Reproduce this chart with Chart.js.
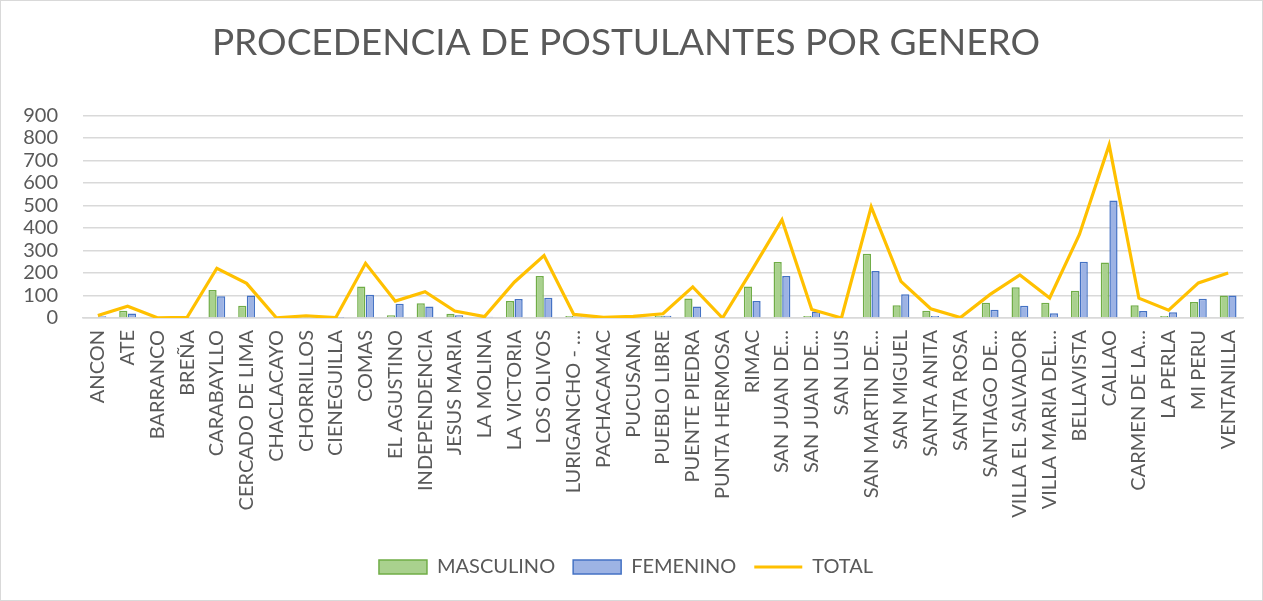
<!DOCTYPE html>
<html>
<head>
<meta charset="utf-8">
<script src="https://cdn.jsdelivr.net/npm/chart.js@4"></script>
<style>
  html, body { margin: 0; padding: 0; background: #fff; }
  #wrap { position: relative; width: 1263px; height: 601px; box-sizing: border-box; border: 1px solid #d9d9d9; }
</style>
</head>
<body>
<div id="wrap"><canvas id="c"></canvas></div>
<script>
const categories = ["ANCON","ATE","BARRANCO","BREÑA","CARABAYLLO","CERCADO DE LIMA","CHACLACAYO","CHORRILLOS","CIENEGUILLA","COMAS","EL AGUSTINO","INDEPENDENCIA","JESUS MARIA","LA MOLINA","LA VICTORIA","LOS OLIVOS","LURIGANCHO - …","PACHACAMAC","PUCUSANA","PUEBLO LIBRE","PUENTE PIEDRA","PUNTA HERMOSA","RIMAC","SAN JUAN DE…","SAN JUAN DE…","SAN LUIS","SAN MARTIN DE…","SAN MIGUEL","SANTA ANITA","SANTA ROSA","SANTIAGO DE…","VILLA EL SALVADOR","VILLA MARIA DEL…","BELLAVISTA","CALLAO","CARMEN DE LA…","LA PERLA","MI PERU","VENTANILLA"];
const masculino = [3,32,0,0,124,54,0,5,1,140,12,66,19,0,75,187,9,1,3,9,87,0,140,249,9,0,285,57,32,0,68,137,68,121,247,57,9,71,100];
const femenino  = [8,20,0,3,97,100,0,5,1,103,63,51,12,6,84,90,7,2,4,10,51,0,75,187,29,0,209,106,9,2,37,54,21,250,522,31,26,85,100];
const total     = [11,52,1,3,221,154,1,10,2,243,75,117,31,6,159,277,16,3,7,19,138,0,215,436,38,0,494,163,41,2,105,191,89,371,769,88,35,156,200];
const yMax = 900;
const yStep = 100;
const legendStyles = ["rect","rect","line"];

const gray = "#595959";
const ctx = document.getElementById("c");
new Chart(ctx, {
  data: {
    labels: categories,
    datasets: [
      { type: "bar", label: "MASCULINO", data: masculino, backgroundColor: "#a9d18e", borderColor: "#70ad47", borderWidth: 1.5, order: 2 },
      { type: "bar", label: "FEMENINO", data: femenino, backgroundColor: "#9db3e4", borderColor: "#4472c4", borderWidth: 1.5, order: 2 },
      { type: "line", label: "TOTAL", data: total, borderColor: "#ffc000", backgroundColor: "#ffc000", borderWidth: 3.2, pointRadius: 0, tension: 0, order: 1 }
    ]
  },
  options: {
    responsive: true,
    maintainAspectRatio: false,
    animation: false,
    layout: { padding: { left: 8, right: 19, top: 0, bottom: 13 } },
    datasets: { bar: { categoryPercentage: 0.58, barPercentage: 0.95 } },
    plugins: {
      title: { display: true, text: "PROCEDENCIA DE POSTULANTES POR GENERO", color: gray,
               font: { family: "Lato", size: 37, weight: "normal" }, padding: { top: 20, bottom: 50 } },
      legend: {
        position: "bottom",
        labels: {
          color: gray, font: { family: "Lato", size: 20 }, usePointStyle: true, pointStyleWidth: 48,
          boxWidth: 48, boxHeight: 14, padding: 18,
          sort: (a, b) => a.datasetIndex - b.datasetIndex,
          generateLabels(chart) {
            const items = Chart.defaults.plugins.legend.labels.generateLabels(chart);
            items.forEach(it => { it.pointStyle = legendStyles[it.datasetIndex]; });
            return items;
          }
        }
      },
      tooltip: { enabled: false }
    },
    scales: {
      x: {
        grid: { display: false },
        border: { color: "#d9d9d9", width: 1.5 },
        ticks: { color: gray, font: { family: "Lato", size: 20 }, minRotation: 90, maxRotation: 90, autoSkip: false, padding: 4 },
        afterFit(s) { s.height = 221; }
      },
      y: {
        min: 0, max: yMax,
        grid: { color: "#d9d9d9", lineWidth: 1.5, drawTicks: false },
        border: { display: false },
        ticks: { color: gray, font: { family: "Lato", size: 20 }, padding: 25, stepSize: yStep, autoSkip: false },
        afterFit(s) { s.width = 74; }
      }
    }
  }
});
</script>
</body>
</html>
